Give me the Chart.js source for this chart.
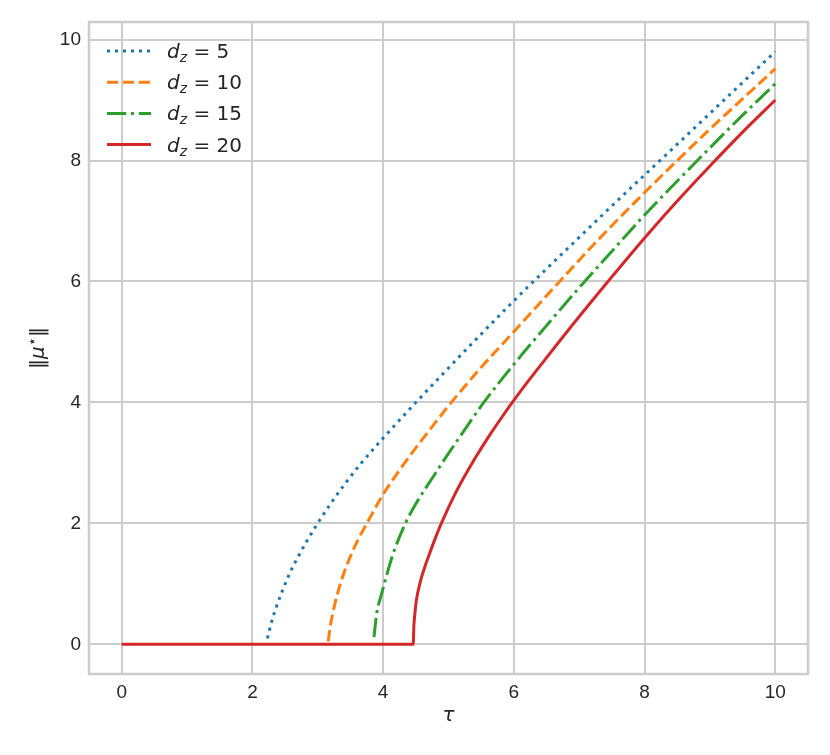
<!DOCTYPE html>
<html>
<head>
<meta charset="utf-8">
<script src="https://cdn.jsdelivr.net/npm/chart.js@4.4.1/dist/chart.umd.min.js"></script>
<style>
  html, body { margin: 0; padding: 0; background: #fff; }
  #wrap { width: 830px; height: 755px; }
</style>
</head>
<body>
<div id="wrap"><canvas id="chart" width="830" height="755"></canvas></div>
<script>
// tick labels
const xTicks = [0, 2, 4, 6, 8, 10];
const yTicks = [0, 2, 4, 6, 8, 10];

// d_z values (one curve each)
const dzValues = [5, 10, 15, 20];

// d_z = 5
const tau5 = [2.23, 2.29, 2.37, 2.46, 2.59, 2.72, 2.85, 2.98, 3.2, 3.42, 3.66, 4.0, 4.51, 5.0, 5.5, 6.0, 6.5, 7.0, 7.5, 8.0, 8.5, 9.0, 9.5, 10.0];
const mu5 = [0.10, 0.36, 0.63, 0.89, 1.22, 1.49, 1.74, 1.97, 2.33, 2.66, 2.99, 3.41, 4.01, 4.57, 5.13, 5.68, 6.21, 6.73, 7.25, 7.76, 8.27, 8.78, 9.29, 9.80];

// d_z = 10
const tau10 = [3.16, 3.19, 3.26, 3.36, 3.49, 3.62, 3.75, 4.0, 4.25, 4.5, 4.75, 5.05, 5.5, 6.0, 6.7, 7.3, 8.0, 8.5, 9.0, 9.5, 10.0];
const mu10 = [0.05, 0.29, 0.66, 1.05, 1.43, 1.74, 2.0, 2.48, 2.88, 3.25, 3.60, 4.01, 4.58, 5.17, 6.0, 6.70, 7.47, 8.0, 8.52, 9.02, 9.52];

// d_z = 15
const tau15 = [3.86, 3.90, 3.98, 4.05, 4.15, 4.34, 4.51, 4.74, 4.99, 5.28, 5.54, 6.0, 6.5, 7.05, 7.5, 8.0, 8.5, 9.0, 9.5, 10.0];
const mu15 = [0.12, 0.50, 0.85, 1.13, 1.49, 2.0, 2.34, 2.73, 3.14, 3.60, 4.0, 4.63, 5.27, 5.96, 6.50, 7.10, 7.66, 8.21, 8.75, 9.27];

// d_z = 20
const tau20 = [0, 4.46, 4.47, 4.49, 4.51, 4.55, 4.59, 4.65, 4.71, 4.8, 4.89, 5.12, 5.38, 5.5, 5.63, 5.8, 5.99, 6.24, 6.5, 7.0, 7.44, 8.0, 8.5, 9.0, 9.5, 10.0];
const mu20 = [0, 0, 0.30, 0.55, 0.74, 0.95, 1.12, 1.32, 1.50, 1.76, 2.0, 2.53, 3.03, 3.24, 3.46, 3.73, 4.02, 4.38, 4.74, 5.42, 6.0, 6.72, 7.33, 7.91, 8.47, 9.0];

const TEXT = '#262626';
const GRID = '#cccccc';
const colors = ['#1f77b4', '#ff7f0e', '#2ca02c', '#d62728'];
const dashes = [[3, 5], [11.1, 4.8], [19.2, 4.8, 3, 4.8], []];
const taus = [tau5, tau10, tau15, tau20];
const mus = [mu5, mu10, mu15, mu20];

const toPoints = (xs, ys) => xs.map((x, i) => ({ x: x, y: ys[i] }));

// legend with math-style labels (d italic, z subscript)
const mathLegend = {
  id: 'mathLegend',
  afterDraw(chart) {
    const { ctx, chartArea } = chart;
    chart.data.datasets.forEach((ds, i) => {
      const y = chartArea.top + 29 + i * 31.2;
      const x0 = chartArea.left + 18;
      ctx.save();
      ctx.strokeStyle = ds.borderColor;
      ctx.lineWidth = ds.borderWidth;
      ctx.setLineDash(ds.borderDash);
      ctx.beginPath();
      ctx.moveTo(x0, y);
      ctx.lineTo(x0 + 44, y);
      ctx.stroke();
      ctx.setLineDash([]);

      ctx.fillStyle = TEXT;
      ctx.textBaseline = 'alphabetic';
      ctx.textAlign = 'left';
      const base = y + 7;
      let x = chartArea.left + 78;
      ctx.font = 'italic 20px "DejaVu Sans"';
      ctx.fillText('d', x, base);
      x += ctx.measureText('d').width;
      ctx.font = 'italic 14px "DejaVu Sans"';
      ctx.fillText('z', x, base + 4);
      x += ctx.measureText('z').width;
      ctx.font = '20px "DejaVu Sans"';
      ctx.fillText(' = ' + dzValues[i], x, base);
      ctx.restore();
    });
  }
};

// frame + axis titles
const frameAndTitles = {
  id: 'frameAndTitles',
  beforeDatasetsDraw(chart) {
    const { ctx, chartArea: a } = chart;
    ctx.save();
    ctx.strokeStyle = GRID;
    ctx.lineWidth = 2.5;
    ctx.strokeRect(a.left, a.top, a.right - a.left, a.bottom - a.top);
    ctx.restore();
  },
  afterDraw(chart) {
    const { ctx, chartArea: a } = chart;
    const cx = (a.left + a.right) / 2;
    const cy = (a.top + a.bottom) / 2;
    ctx.save();
    ctx.fillStyle = TEXT;
    ctx.textBaseline = 'middle';
    ctx.textAlign = 'center';
    ctx.font = 'italic 20px "DejaVu Sans"';
    ctx.fillText('τ', cx, 716);

    // y title: ‖μ⋆‖ rotated
    ctx.translate(37, cy);
    ctx.rotate(-Math.PI / 2);
    ctx.textAlign = 'left';
    ctx.textBaseline = 'alphabetic';
    const parts = [
      { t: '‖', f: '20px "DejaVu Sans"', dy: 0 },
      { t: 'μ', f: 'italic 20px "DejaVu Sans"', dy: 0 },
      { t: '⋆', f: '15px "DejaVu Sans"', dy: -7 },
      { t: '‖', f: '20px "DejaVu Sans"', dy: 0 }
    ];
    let w = 0;
    parts.forEach(p => { ctx.font = p.f; p.w = ctx.measureText(p.t).width; w += p.w; });
    let x = -w / 2;
    parts.forEach(p => { ctx.font = p.f; ctx.fillText(p.t, x, 7 + p.dy); x += p.w; });
    ctx.restore();
  }
};

const tickFont = { family: '"Liberation Sans", Arial, sans-serif', size: 19 };

new Chart(document.getElementById('chart'), {
  type: 'line',
  data: {
    datasets: dzValues.map((d, i) => ({
      label: 'd_z = ' + d,
      data: toPoints(taus[i], mus[i]),
      borderColor: colors[i],
      backgroundColor: colors[i],
      borderWidth: 3,
      borderDash: dashes[i],
      pointRadius: 0,
      fill: false,
      cubicInterpolationMode: 'monotone',
      order: 3 - i
    }))
  },
  options: {
    responsive: false,
    animation: false,
    devicePixelRatio: 1,
    layout: { padding: { top: 22, right: 22, left: 0, bottom: 0 } },
    plugins: {
      legend: { display: false },
      tooltip: { enabled: false }
    },
    scales: {
      x: {
        type: 'linear',
        min: -0.5,
        max: 10.5,
        afterBuildTicks: s => { s.ticks = xTicks.map(v => ({ value: v })); },
        afterFit: s => { s.height = 81; },
        grid: { color: GRID, lineWidth: 2, drawTicks: false },
        border: { display: false },
        ticks: { font: tickFont, color: TEXT, padding: 7, maxRotation: 0 }
      },
      y: {
        type: 'linear',
        min: -0.49,
        max: 10.29,
        afterBuildTicks: s => { s.ticks = yTicks.map(v => ({ value: v })); },
        afterFit: s => { s.width = 89; },
        grid: { color: GRID, lineWidth: 2, drawTicks: false },
        border: { display: false },
        ticks: { font: tickFont, color: TEXT, padding: 8 }
      }
    }
  },
  plugins: [frameAndTitles, mathLegend]
});
</script>
</body>
</html>
